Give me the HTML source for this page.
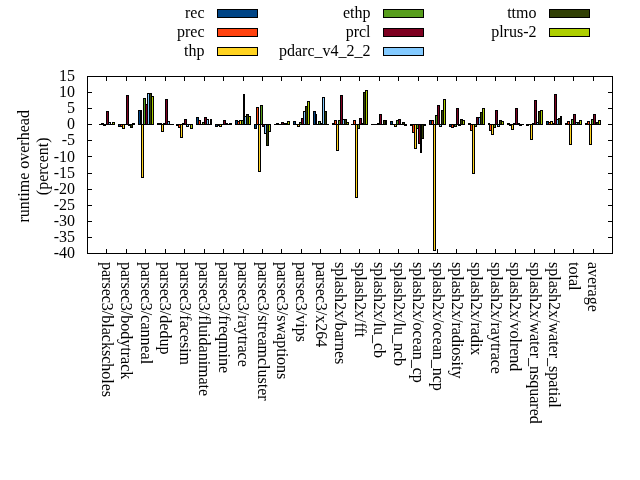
<!DOCTYPE html><html><head><meta charset="utf-8"><style>html,body{margin:0;padding:0;background:#fff;}svg{display:block;will-change:transform;}text{font-family:"Liberation Serif",serif;font-size:16px;fill:#000;}</style></head><body>
<svg width="640" height="480" viewBox="0 0 640 480">
<rect width="640" height="480" fill="#fff"/>
<g shape-rendering="crispEdges" fill="#000"><rect x="99" y="124" width="3" height="1"/><rect x="118" y="124" width="3" height="3"/><rect x="119" y="125" width="1" height="1" fill="#004586"/><rect x="138" y="110" width="3" height="15"/><rect x="139" y="111" width="1" height="13" fill="#004586"/><rect x="157" y="123" width="3" height="2"/><rect x="176" y="124" width="3" height="2"/><rect x="196" y="117" width="3" height="8"/><rect x="197" y="118" width="1" height="6" fill="#004586"/><rect x="215" y="124" width="3" height="3"/><rect x="216" y="125" width="1" height="1" fill="#004586"/><rect x="235" y="120" width="3" height="5"/><rect x="236" y="121" width="1" height="3" fill="#004586"/><rect x="254" y="124" width="3" height="5"/><rect x="255" y="125" width="1" height="3" fill="#004586"/><rect x="274" y="124" width="3" height="1"/><rect x="293" y="121" width="3" height="4"/><rect x="294" y="122" width="1" height="2" fill="#004586"/><rect x="313" y="111" width="3" height="14"/><rect x="314" y="112" width="1" height="12" fill="#004586"/><rect x="332" y="123" width="3" height="2"/><rect x="351" y="124" width="3" height="1"/><rect x="371" y="124" width="3" height="1"/><rect x="390" y="121" width="3" height="4"/><rect x="391" y="122" width="1" height="2" fill="#004586"/><rect x="410" y="124" width="3" height="2"/><rect x="429" y="120" width="3" height="5"/><rect x="430" y="121" width="1" height="3" fill="#004586"/><rect x="449" y="124" width="3" height="3"/><rect x="450" y="125" width="1" height="1" fill="#004586"/><rect x="468" y="123" width="3" height="2"/><rect x="488" y="123" width="2" height="2"/><rect x="507" y="123" width="3" height="2"/><rect x="526" y="124" width="3" height="2"/><rect x="546" y="121" width="3" height="4"/><rect x="547" y="122" width="1" height="2" fill="#004586"/><rect x="565" y="123" width="3" height="2"/><rect x="585" y="123" width="3" height="2"/><rect x="101" y="123" width="3" height="2"/><rect x="120" y="124" width="3" height="3"/><rect x="121" y="125" width="1" height="1" fill="#ff420e"/><rect x="140" y="110" width="2" height="15"/><rect x="159" y="123" width="3" height="2"/><rect x="178" y="124" width="3" height="4"/><rect x="179" y="125" width="1" height="2" fill="#ff420e"/><rect x="198" y="120" width="3" height="5"/><rect x="199" y="121" width="1" height="3" fill="#ff420e"/><rect x="217" y="124" width="3" height="2"/><rect x="237" y="121" width="3" height="4"/><rect x="238" y="122" width="1" height="2" fill="#ff420e"/><rect x="256" y="107" width="3" height="18"/><rect x="257" y="108" width="1" height="16" fill="#ff420e"/><rect x="276" y="123" width="3" height="2"/><rect x="295" y="124" width="3" height="1"/><rect x="315" y="114" width="2" height="11"/><rect x="334" y="120" width="3" height="5"/><rect x="335" y="121" width="1" height="3" fill="#ff420e"/><rect x="353" y="120" width="3" height="5"/><rect x="354" y="121" width="1" height="3" fill="#ff420e"/><rect x="373" y="124" width="3" height="1"/><rect x="392" y="124" width="3" height="1"/><rect x="412" y="124" width="3" height="9"/><rect x="413" y="125" width="1" height="7" fill="#ff420e"/><rect x="431" y="120" width="3" height="5"/><rect x="432" y="121" width="1" height="3" fill="#ff420e"/><rect x="451" y="124" width="3" height="4"/><rect x="452" y="125" width="1" height="2" fill="#ff420e"/><rect x="470" y="124" width="3" height="7"/><rect x="471" y="125" width="1" height="5" fill="#ff420e"/><rect x="489" y="124" width="3" height="7"/><rect x="490" y="125" width="1" height="5" fill="#ff420e"/><rect x="509" y="124" width="3" height="2"/><rect x="528" y="124" width="3" height="1"/><rect x="548" y="122" width="3" height="3"/><rect x="549" y="123" width="1" height="1" fill="#ff420e"/><rect x="567" y="121" width="3" height="4"/><rect x="568" y="122" width="1" height="2" fill="#ff420e"/><rect x="587" y="121" width="3" height="4"/><rect x="588" y="122" width="1" height="2" fill="#ff420e"/><rect x="103" y="124" width="3" height="2"/><rect x="122" y="124" width="3" height="5"/><rect x="123" y="125" width="1" height="3" fill="#ffd320"/><rect x="141" y="124" width="3" height="54"/><rect x="142" y="125" width="1" height="52" fill="#ffd320"/><rect x="161" y="124" width="3" height="8"/><rect x="162" y="125" width="1" height="6" fill="#ffd320"/><rect x="180" y="124" width="3" height="14"/><rect x="181" y="125" width="1" height="12" fill="#ffd320"/><rect x="200" y="124" width="3" height="1"/><rect x="219" y="124" width="3" height="3"/><rect x="220" y="125" width="1" height="1" fill="#ffd320"/><rect x="239" y="120" width="3" height="5"/><rect x="240" y="121" width="1" height="3" fill="#ffd320"/><rect x="258" y="124" width="3" height="48"/><rect x="259" y="125" width="1" height="46" fill="#ffd320"/><rect x="278" y="124" width="3" height="1"/><rect x="297" y="124" width="3" height="3"/><rect x="298" y="125" width="1" height="1" fill="#ffd320"/><rect x="316" y="124" width="3" height="1"/><rect x="336" y="124" width="3" height="27"/><rect x="337" y="125" width="1" height="25" fill="#ffd320"/><rect x="355" y="124" width="3" height="74"/><rect x="356" y="125" width="1" height="72" fill="#ffd320"/><rect x="375" y="124" width="3" height="1"/><rect x="394" y="124" width="3" height="3"/><rect x="395" y="125" width="1" height="1" fill="#ffd320"/><rect x="414" y="124" width="3" height="25"/><rect x="415" y="125" width="1" height="23" fill="#ffd320"/><rect x="433" y="124" width="3" height="127"/><rect x="434" y="125" width="1" height="125" fill="#ffd320"/><rect x="453" y="124" width="2" height="3"/><rect x="472" y="124" width="3" height="50"/><rect x="473" y="125" width="1" height="48" fill="#ffd320"/><rect x="491" y="124" width="3" height="11"/><rect x="492" y="125" width="1" height="9" fill="#ffd320"/><rect x="511" y="124" width="3" height="6"/><rect x="512" y="125" width="1" height="4" fill="#ffd320"/><rect x="530" y="124" width="3" height="16"/><rect x="531" y="125" width="1" height="14" fill="#ffd320"/><rect x="550" y="121" width="3" height="4"/><rect x="551" y="122" width="1" height="2" fill="#ffd320"/><rect x="569" y="124" width="3" height="21"/><rect x="570" y="125" width="1" height="19" fill="#ffd320"/><rect x="589" y="124" width="3" height="21"/><rect x="590" y="125" width="1" height="19" fill="#ffd320"/><rect x="105" y="124" width="2" height="1"/><rect x="124" y="124" width="3" height="1"/><rect x="143" y="98" width="3" height="27"/><rect x="144" y="99" width="1" height="25" fill="#579d1c"/><rect x="163" y="123" width="3" height="2"/><rect x="182" y="123" width="3" height="2"/><rect x="202" y="122" width="3" height="3"/><rect x="203" y="123" width="1" height="1" fill="#579d1c"/><rect x="221" y="124" width="3" height="1"/><rect x="241" y="120" width="3" height="5"/><rect x="242" y="121" width="1" height="3" fill="#579d1c"/><rect x="260" y="105" width="3" height="20"/><rect x="261" y="106" width="1" height="18" fill="#579d1c"/><rect x="280" y="124" width="2" height="1"/><rect x="299" y="122" width="3" height="3"/><rect x="300" y="123" width="1" height="1" fill="#579d1c"/><rect x="318" y="121" width="3" height="4"/><rect x="319" y="122" width="1" height="2" fill="#579d1c"/><rect x="338" y="120" width="3" height="5"/><rect x="339" y="121" width="1" height="3" fill="#579d1c"/><rect x="357" y="124" width="3" height="5"/><rect x="358" y="125" width="1" height="3" fill="#579d1c"/><rect x="377" y="123" width="3" height="2"/><rect x="396" y="120" width="3" height="5"/><rect x="397" y="121" width="1" height="3" fill="#579d1c"/><rect x="416" y="124" width="3" height="5"/><rect x="417" y="125" width="1" height="3" fill="#579d1c"/><rect x="435" y="115" width="3" height="10"/><rect x="436" y="116" width="1" height="8" fill="#579d1c"/><rect x="454" y="124" width="3" height="3"/><rect x="455" y="125" width="1" height="1" fill="#579d1c"/><rect x="474" y="124" width="3" height="3"/><rect x="475" y="125" width="1" height="1" fill="#579d1c"/><rect x="493" y="124" width="3" height="4"/><rect x="494" y="125" width="1" height="2" fill="#579d1c"/><rect x="513" y="123" width="3" height="2"/><rect x="532" y="123" width="3" height="2"/><rect x="552" y="123" width="3" height="2"/><rect x="571" y="119" width="3" height="6"/><rect x="572" y="120" width="1" height="4" fill="#579d1c"/><rect x="591" y="119" width="3" height="6"/><rect x="592" y="120" width="1" height="4" fill="#579d1c"/><rect x="106" y="111" width="3" height="14"/><rect x="107" y="112" width="1" height="12" fill="#7e0021"/><rect x="126" y="95" width="3" height="30"/><rect x="127" y="96" width="1" height="28" fill="#7e0021"/><rect x="145" y="104" width="3" height="21"/><rect x="146" y="105" width="1" height="19" fill="#7e0021"/><rect x="165" y="99" width="3" height="26"/><rect x="166" y="100" width="1" height="24" fill="#7e0021"/><rect x="184" y="119" width="3" height="6"/><rect x="185" y="120" width="1" height="4" fill="#7e0021"/><rect x="204" y="117" width="3" height="8"/><rect x="205" y="118" width="1" height="6" fill="#7e0021"/><rect x="223" y="120" width="3" height="5"/><rect x="224" y="121" width="1" height="3" fill="#7e0021"/><rect x="243" y="94" width="2" height="31"/><rect x="262" y="124" width="3" height="3"/><rect x="263" y="125" width="1" height="1" fill="#7e0021"/><rect x="281" y="122" width="3" height="3"/><rect x="282" y="123" width="1" height="1" fill="#7e0021"/><rect x="301" y="118" width="3" height="7"/><rect x="302" y="119" width="1" height="5" fill="#7e0021"/><rect x="320" y="123" width="3" height="2"/><rect x="340" y="95" width="3" height="30"/><rect x="341" y="96" width="1" height="28" fill="#7e0021"/><rect x="359" y="118" width="3" height="7"/><rect x="360" y="119" width="1" height="5" fill="#7e0021"/><rect x="379" y="114" width="3" height="11"/><rect x="380" y="115" width="1" height="9" fill="#7e0021"/><rect x="398" y="119" width="3" height="6"/><rect x="399" y="120" width="1" height="4" fill="#7e0021"/><rect x="418" y="124" width="3" height="20"/><rect x="419" y="125" width="1" height="18" fill="#7e0021"/><rect x="437" y="105" width="3" height="20"/><rect x="438" y="106" width="1" height="18" fill="#7e0021"/><rect x="456" y="108" width="3" height="17"/><rect x="457" y="109" width="1" height="15" fill="#7e0021"/><rect x="476" y="117" width="3" height="8"/><rect x="477" y="118" width="1" height="6" fill="#7e0021"/><rect x="495" y="110" width="3" height="15"/><rect x="496" y="111" width="1" height="13" fill="#7e0021"/><rect x="515" y="108" width="3" height="17"/><rect x="516" y="109" width="1" height="15" fill="#7e0021"/><rect x="534" y="100" width="3" height="25"/><rect x="535" y="101" width="1" height="23" fill="#7e0021"/><rect x="554" y="94" width="3" height="31"/><rect x="555" y="95" width="1" height="29" fill="#7e0021"/><rect x="573" y="114" width="3" height="11"/><rect x="574" y="115" width="1" height="9" fill="#7e0021"/><rect x="593" y="114" width="3" height="11"/><rect x="594" y="115" width="1" height="9" fill="#7e0021"/><rect x="108" y="122" width="3" height="3"/><rect x="109" y="123" width="1" height="1" fill="#83caff"/><rect x="128" y="124" width="3" height="2"/><rect x="147" y="93" width="3" height="32"/><rect x="148" y="94" width="1" height="30" fill="#83caff"/><rect x="167" y="121" width="3" height="4"/><rect x="168" y="122" width="1" height="2" fill="#83caff"/><rect x="186" y="124" width="3" height="3"/><rect x="187" y="125" width="1" height="1" fill="#83caff"/><rect x="206" y="119" width="3" height="6"/><rect x="207" y="120" width="1" height="4" fill="#83caff"/><rect x="225" y="123" width="3" height="2"/><rect x="244" y="116" width="3" height="9"/><rect x="245" y="117" width="1" height="7" fill="#83caff"/><rect x="264" y="124" width="3" height="10"/><rect x="265" y="125" width="1" height="8" fill="#83caff"/><rect x="283" y="123" width="3" height="2"/><rect x="303" y="111" width="3" height="14"/><rect x="304" y="112" width="1" height="12" fill="#83caff"/><rect x="322" y="97" width="3" height="28"/><rect x="323" y="98" width="1" height="26" fill="#83caff"/><rect x="342" y="119" width="3" height="6"/><rect x="343" y="120" width="1" height="4" fill="#83caff"/><rect x="361" y="123" width="3" height="2"/><rect x="381" y="124" width="3" height="1"/><rect x="400" y="124" width="3" height="1"/><rect x="420" y="124" width="2" height="29"/><rect x="439" y="124" width="3" height="3"/><rect x="440" y="125" width="1" height="1" fill="#83caff"/><rect x="458" y="124" width="3" height="2"/><rect x="478" y="117" width="3" height="8"/><rect x="479" y="118" width="1" height="6" fill="#83caff"/><rect x="497" y="124" width="3" height="3"/><rect x="498" y="125" width="1" height="1" fill="#83caff"/><rect x="517" y="123" width="3" height="2"/><rect x="536" y="122" width="3" height="3"/><rect x="537" y="123" width="1" height="1" fill="#83caff"/><rect x="556" y="119" width="3" height="6"/><rect x="557" y="120" width="1" height="4" fill="#83caff"/><rect x="575" y="122" width="3" height="3"/><rect x="576" y="123" width="1" height="1" fill="#83caff"/><rect x="595" y="122" width="2" height="3"/><rect x="110" y="124" width="3" height="1"/><rect x="130" y="124" width="3" height="4"/><rect x="131" y="125" width="1" height="2" fill="#314004"/><rect x="149" y="93" width="3" height="32"/><rect x="150" y="94" width="1" height="30" fill="#314004"/><rect x="169" y="124" width="3" height="1"/><rect x="188" y="124" width="3" height="1"/><rect x="208" y="124" width="3" height="1"/><rect x="227" y="124" width="3" height="1"/><rect x="246" y="114" width="3" height="11"/><rect x="247" y="115" width="1" height="9" fill="#314004"/><rect x="266" y="124" width="3" height="22"/><rect x="267" y="125" width="1" height="20" fill="#314004"/><rect x="285" y="123" width="3" height="2"/><rect x="305" y="106" width="3" height="19"/><rect x="306" y="107" width="1" height="17" fill="#314004"/><rect x="324" y="111" width="3" height="14"/><rect x="325" y="112" width="1" height="12" fill="#314004"/><rect x="344" y="119" width="3" height="6"/><rect x="345" y="120" width="1" height="4" fill="#314004"/><rect x="363" y="92" width="3" height="33"/><rect x="364" y="93" width="1" height="31" fill="#314004"/><rect x="383" y="120" width="3" height="5"/><rect x="384" y="121" width="1" height="3" fill="#314004"/><rect x="402" y="122" width="3" height="3"/><rect x="403" y="123" width="1" height="1" fill="#314004"/><rect x="421" y="124" width="3" height="15"/><rect x="422" y="125" width="1" height="13" fill="#314004"/><rect x="441" y="110" width="3" height="15"/><rect x="442" y="111" width="1" height="13" fill="#314004"/><rect x="460" y="119" width="3" height="6"/><rect x="461" y="120" width="1" height="4" fill="#314004"/><rect x="480" y="112" width="3" height="13"/><rect x="481" y="113" width="1" height="11" fill="#314004"/><rect x="499" y="120" width="3" height="5"/><rect x="500" y="121" width="1" height="3" fill="#314004"/><rect x="519" y="124" width="3" height="2"/><rect x="538" y="111" width="3" height="14"/><rect x="539" y="112" width="1" height="12" fill="#314004"/><rect x="558" y="118" width="3" height="7"/><rect x="559" y="119" width="1" height="5" fill="#314004"/><rect x="577" y="122" width="3" height="3"/><rect x="578" y="123" width="1" height="1" fill="#314004"/><rect x="596" y="122" width="3" height="3"/><rect x="597" y="123" width="1" height="1" fill="#314004"/><rect x="112" y="122" width="3" height="3"/><rect x="113" y="123" width="1" height="1" fill="#aecf00"/><rect x="132" y="123" width="3" height="2"/><rect x="151" y="96" width="3" height="29"/><rect x="152" y="97" width="1" height="27" fill="#aecf00"/><rect x="171" y="124" width="3" height="1"/><rect x="190" y="124" width="3" height="5"/><rect x="191" y="125" width="1" height="3" fill="#aecf00"/><rect x="210" y="119" width="2" height="6"/><rect x="229" y="123" width="3" height="2"/><rect x="248" y="116" width="3" height="9"/><rect x="249" y="117" width="1" height="7" fill="#aecf00"/><rect x="268" y="124" width="3" height="8"/><rect x="269" y="125" width="1" height="6" fill="#aecf00"/><rect x="287" y="121" width="3" height="4"/><rect x="288" y="122" width="1" height="2" fill="#aecf00"/><rect x="307" y="101" width="3" height="24"/><rect x="308" y="102" width="1" height="22" fill="#aecf00"/><rect x="326" y="124" width="3" height="1"/><rect x="346" y="122" width="3" height="3"/><rect x="347" y="123" width="1" height="1" fill="#aecf00"/><rect x="365" y="90" width="3" height="35"/><rect x="366" y="91" width="1" height="33" fill="#aecf00"/><rect x="385" y="120" width="2" height="5"/><rect x="404" y="124" width="3" height="2"/><rect x="423" y="124" width="3" height="2"/><rect x="443" y="99" width="3" height="26"/><rect x="444" y="100" width="1" height="24" fill="#aecf00"/><rect x="462" y="120" width="3" height="5"/><rect x="463" y="121" width="1" height="3" fill="#aecf00"/><rect x="482" y="108" width="3" height="17"/><rect x="483" y="109" width="1" height="15" fill="#aecf00"/><rect x="501" y="121" width="3" height="4"/><rect x="502" y="122" width="1" height="2" fill="#aecf00"/><rect x="521" y="124" width="3" height="1"/><rect x="540" y="110" width="3" height="15"/><rect x="541" y="111" width="1" height="13" fill="#aecf00"/><rect x="560" y="116" width="2" height="9"/><rect x="579" y="120" width="3" height="5"/><rect x="580" y="121" width="1" height="3" fill="#aecf00"/><rect x="598" y="120" width="3" height="5"/><rect x="599" y="121" width="1" height="3" fill="#aecf00"/></g>
<g shape-rendering="crispEdges"><rect x="87.5" y="76.5" width="525" height="177" fill="none" stroke="#000" stroke-width="1"/><line x1="87" y1="92.5" x2="92" y2="92.5" stroke="#000"/><line x1="608" y1="92.5" x2="613" y2="92.5" stroke="#000"/><line x1="87" y1="108.5" x2="92" y2="108.5" stroke="#000"/><line x1="608" y1="108.5" x2="613" y2="108.5" stroke="#000"/><line x1="87" y1="124.5" x2="92" y2="124.5" stroke="#000"/><line x1="608" y1="124.5" x2="613" y2="124.5" stroke="#000"/><line x1="87" y1="140.5" x2="92" y2="140.5" stroke="#000"/><line x1="608" y1="140.5" x2="613" y2="140.5" stroke="#000"/><line x1="87" y1="156.5" x2="92" y2="156.5" stroke="#000"/><line x1="608" y1="156.5" x2="613" y2="156.5" stroke="#000"/><line x1="87" y1="173.5" x2="92" y2="173.5" stroke="#000"/><line x1="608" y1="173.5" x2="613" y2="173.5" stroke="#000"/><line x1="87" y1="189.5" x2="92" y2="189.5" stroke="#000"/><line x1="608" y1="189.5" x2="613" y2="189.5" stroke="#000"/><line x1="87" y1="205.5" x2="92" y2="205.5" stroke="#000"/><line x1="608" y1="205.5" x2="613" y2="205.5" stroke="#000"/><line x1="87" y1="221.5" x2="92" y2="221.5" stroke="#000"/><line x1="608" y1="221.5" x2="613" y2="221.5" stroke="#000"/><line x1="87" y1="237.5" x2="92" y2="237.5" stroke="#000"/><line x1="608" y1="237.5" x2="613" y2="237.5" stroke="#000"/><line x1="106.5" y1="253" x2="106.5" y2="249" stroke="#000"/><line x1="106.5" y1="77" x2="106.5" y2="81" stroke="#000"/><line x1="126.5" y1="253" x2="126.5" y2="249" stroke="#000"/><line x1="126.5" y1="77" x2="126.5" y2="81" stroke="#000"/><line x1="145.5" y1="253" x2="145.5" y2="249" stroke="#000"/><line x1="145.5" y1="77" x2="145.5" y2="81" stroke="#000"/><line x1="165.5" y1="253" x2="165.5" y2="249" stroke="#000"/><line x1="165.5" y1="77" x2="165.5" y2="81" stroke="#000"/><line x1="184.5" y1="253" x2="184.5" y2="249" stroke="#000"/><line x1="184.5" y1="77" x2="184.5" y2="81" stroke="#000"/><line x1="204.5" y1="253" x2="204.5" y2="249" stroke="#000"/><line x1="204.5" y1="77" x2="204.5" y2="81" stroke="#000"/><line x1="223.5" y1="253" x2="223.5" y2="249" stroke="#000"/><line x1="223.5" y1="77" x2="223.5" y2="81" stroke="#000"/><line x1="243.5" y1="253" x2="243.5" y2="249" stroke="#000"/><line x1="243.5" y1="77" x2="243.5" y2="81" stroke="#000"/><line x1="262.5" y1="253" x2="262.5" y2="249" stroke="#000"/><line x1="262.5" y1="77" x2="262.5" y2="81" stroke="#000"/><line x1="281.5" y1="253" x2="281.5" y2="249" stroke="#000"/><line x1="281.5" y1="77" x2="281.5" y2="81" stroke="#000"/><line x1="301.5" y1="253" x2="301.5" y2="249" stroke="#000"/><line x1="301.5" y1="77" x2="301.5" y2="81" stroke="#000"/><line x1="320.5" y1="253" x2="320.5" y2="249" stroke="#000"/><line x1="320.5" y1="77" x2="320.5" y2="81" stroke="#000"/><line x1="340.5" y1="253" x2="340.5" y2="249" stroke="#000"/><line x1="340.5" y1="77" x2="340.5" y2="81" stroke="#000"/><line x1="359.5" y1="253" x2="359.5" y2="249" stroke="#000"/><line x1="359.5" y1="77" x2="359.5" y2="81" stroke="#000"/><line x1="379.5" y1="253" x2="379.5" y2="249" stroke="#000"/><line x1="379.5" y1="77" x2="379.5" y2="81" stroke="#000"/><line x1="398.5" y1="253" x2="398.5" y2="249" stroke="#000"/><line x1="398.5" y1="77" x2="398.5" y2="81" stroke="#000"/><line x1="418.5" y1="253" x2="418.5" y2="249" stroke="#000"/><line x1="418.5" y1="77" x2="418.5" y2="81" stroke="#000"/><line x1="437.5" y1="253" x2="437.5" y2="249" stroke="#000"/><line x1="437.5" y1="77" x2="437.5" y2="81" stroke="#000"/><line x1="456.5" y1="253" x2="456.5" y2="249" stroke="#000"/><line x1="456.5" y1="77" x2="456.5" y2="81" stroke="#000"/><line x1="476.5" y1="253" x2="476.5" y2="249" stroke="#000"/><line x1="476.5" y1="77" x2="476.5" y2="81" stroke="#000"/><line x1="495.5" y1="253" x2="495.5" y2="249" stroke="#000"/><line x1="495.5" y1="77" x2="495.5" y2="81" stroke="#000"/><line x1="515.5" y1="253" x2="515.5" y2="249" stroke="#000"/><line x1="515.5" y1="77" x2="515.5" y2="81" stroke="#000"/><line x1="534.5" y1="253" x2="534.5" y2="249" stroke="#000"/><line x1="534.5" y1="77" x2="534.5" y2="81" stroke="#000"/><line x1="554.5" y1="253" x2="554.5" y2="249" stroke="#000"/><line x1="554.5" y1="77" x2="554.5" y2="81" stroke="#000"/><line x1="573.5" y1="253" x2="573.5" y2="249" stroke="#000"/><line x1="573.5" y1="77" x2="573.5" y2="81" stroke="#000"/><line x1="593.5" y1="253" x2="593.5" y2="249" stroke="#000"/><line x1="593.5" y1="77" x2="593.5" y2="81" stroke="#000"/></g>
<text x="75" y="81.0" text-anchor="end">15</text><text x="75" y="97.1" text-anchor="end">10</text><text x="75" y="113.2" text-anchor="end">5</text><text x="75" y="129.3" text-anchor="end">0</text><text x="75" y="145.4" text-anchor="end">-5</text><text x="75" y="161.5" text-anchor="end">-10</text><text x="75" y="177.5" text-anchor="end">-15</text><text x="75" y="193.6" text-anchor="end">-20</text><text x="75" y="209.7" text-anchor="end">-25</text><text x="75" y="225.8" text-anchor="end">-30</text><text x="75" y="241.9" text-anchor="end">-35</text><text x="75" y="258.0" text-anchor="end">-40</text><text transform="translate(101.94,262) rotate(90)">parsec3/blackscholes</text><text transform="translate(121.39,262) rotate(90)">parsec3/bodytrack</text><text transform="translate(140.83,262) rotate(90)">parsec3/canneal</text><text transform="translate(160.28,262) rotate(90)">parsec3/dedup</text><text transform="translate(179.72,262) rotate(90)">parsec3/facesim</text><text transform="translate(199.17,262) rotate(90)">parsec3/fluidanimate</text><text transform="translate(218.61,262) rotate(90)">parsec3/freqmine</text><text transform="translate(238.06,262) rotate(90)">parsec3/raytrace</text><text transform="translate(257.50,262) rotate(90)">parsec3/streamcluster</text><text transform="translate(276.94,262) rotate(90)">parsec3/swaptions</text><text transform="translate(296.39,262) rotate(90)">parsec3/vips</text><text transform="translate(315.83,262) rotate(90)">parsec3/x264</text><text transform="translate(335.28,262) rotate(90)">splash2x/barnes</text><text transform="translate(354.72,262) rotate(90)">splash2x/fft</text><text transform="translate(374.17,262) rotate(90)">splash2x/lu_cb</text><text transform="translate(393.61,262) rotate(90)">splash2x/lu_ncb</text><text transform="translate(413.06,262) rotate(90)">splash2x/ocean_cp</text><text transform="translate(432.50,262) rotate(90)">splash2x/ocean_ncp</text><text transform="translate(451.94,262) rotate(90)">splash2x/radiosity</text><text transform="translate(471.39,262) rotate(90)">splash2x/radix</text><text transform="translate(490.83,262) rotate(90)">splash2x/raytrace</text><text transform="translate(510.28,262) rotate(90)">splash2x/volrend</text><text transform="translate(529.72,262) rotate(90)">splash2x/water_nsquared</text><text transform="translate(549.17,262) rotate(90)">splash2x/water_spatial</text><text transform="translate(568.61,262) rotate(90)">total</text><text transform="translate(588.06,262) rotate(90)">average</text><text transform="translate(28.7,166.3) rotate(-90)" text-anchor="middle">runtime overhead</text><text transform="translate(47.9,166.3) rotate(-90)" text-anchor="middle">(percent)</text><text x="204.5" y="17.8" text-anchor="end">rec</text><rect x="217.5" y="9.5" width="40" height="8" fill="#004586" stroke="#000" stroke-width="1" shape-rendering="crispEdges"/><text x="204.5" y="36.8" text-anchor="end">prec</text><rect x="217.5" y="28.5" width="40" height="8" fill="#ff420e" stroke="#000" stroke-width="1" shape-rendering="crispEdges"/><text x="204.5" y="55.8" text-anchor="end">thp</text><rect x="217.5" y="47.5" width="40" height="8" fill="#ffd320" stroke="#000" stroke-width="1" shape-rendering="crispEdges"/><text x="370.5" y="17.8" text-anchor="end">ethp</text><rect x="383.5" y="9.5" width="40" height="8" fill="#579d1c" stroke="#000" stroke-width="1" shape-rendering="crispEdges"/><text x="370.5" y="36.8" text-anchor="end">prcl</text><rect x="383.5" y="28.5" width="40" height="8" fill="#7e0021" stroke="#000" stroke-width="1" shape-rendering="crispEdges"/><text x="370.5" y="55.8" text-anchor="end">pdarc_v4_2_2</text><rect x="383.5" y="47.5" width="40" height="8" fill="#83caff" stroke="#000" stroke-width="1" shape-rendering="crispEdges"/><text x="536.5" y="17.8" text-anchor="end">ttmo</text><rect x="549.5" y="9.5" width="40" height="8" fill="#314004" stroke="#000" stroke-width="1" shape-rendering="crispEdges"/><text x="536.5" y="36.8" text-anchor="end">plrus-2</text><rect x="549.5" y="28.5" width="40" height="8" fill="#aecf00" stroke="#000" stroke-width="1" shape-rendering="crispEdges"/>
</svg></body></html>
